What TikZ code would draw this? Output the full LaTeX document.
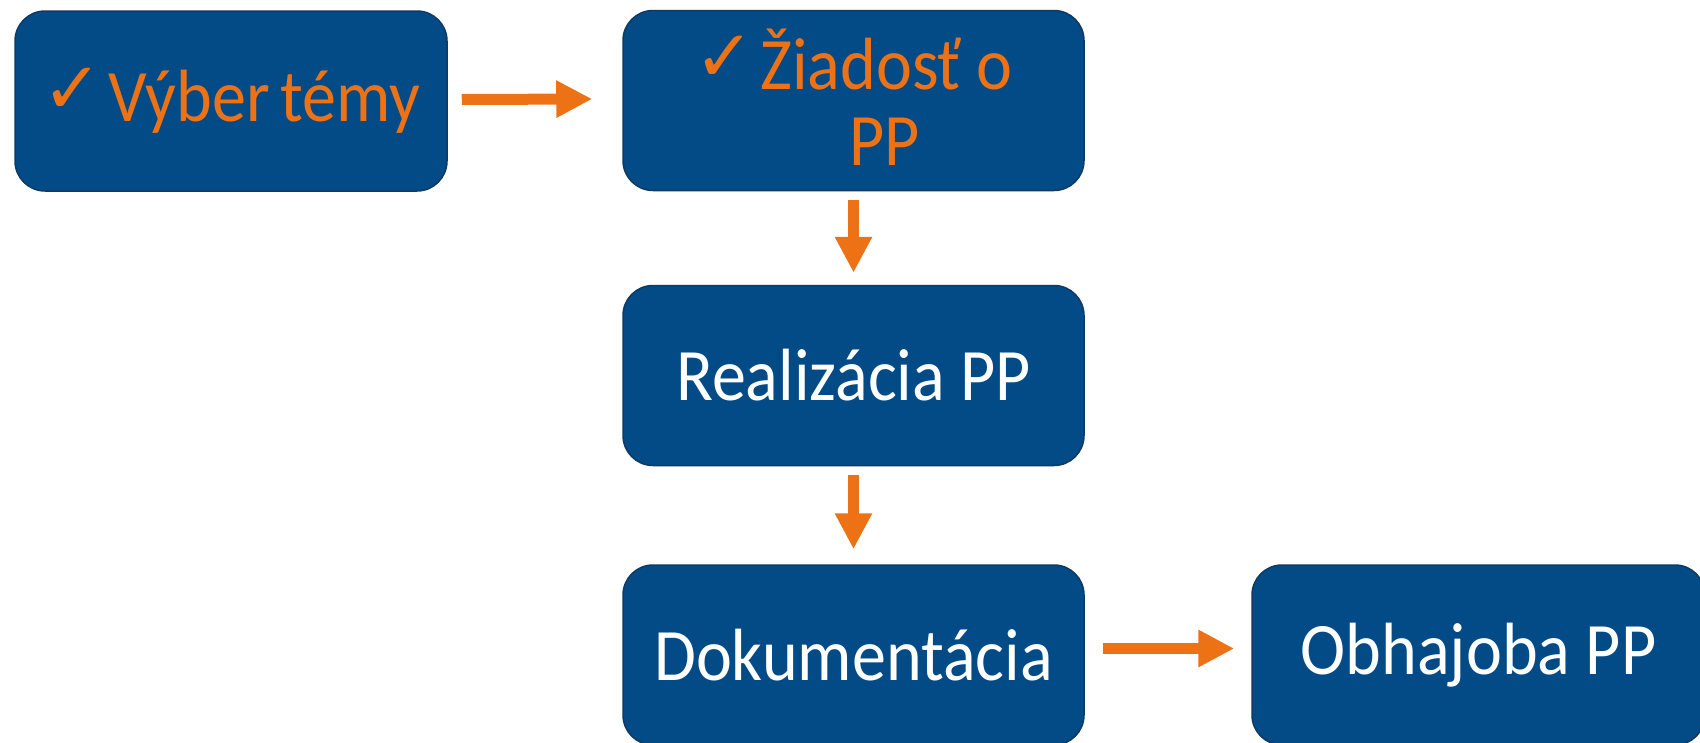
\documentclass[tikz,border=0pt]{standalone}
\usepackage{fontspec}
\setmainfont[FakeStretch=0.92]{Carlito}
\newfontfamily\symfont{DejaVu Sans}
\usetikzlibrary{arrows.meta}
\definecolor{boxblue}{RGB}{3,75,135}
\definecolor{boxedge}{RGB}{14,58,100}
\definecolor{accent}{RGB}{237,114,22}
\newcommand{\chk}{\raisebox{8pt}{\symfont\fontsize{72}{72}\selectfont ✓}\hspace{6pt}}
\begin{document}
\begin{tikzpicture}[x=1pt,y=-1pt,
  stage/.style={draw=boxedge, line width=1.5pt, fill=boxblue, rounded corners=30pt,
    inner sep=0pt, text=white, font=\fontsize{74}{76}\selectfont, align=center,
    minimum height=180pt},
  flow/.style={draw=accent, line width=11pt, -{Triangle[width=35pt,length=36pt]}}]
\useasboundingbox (0,0) rectangle (1700,742);
\node[stage, minimum width=432pt, text=accent] (b1) at (231,101) {\spaceskip=10pt\chk Výber témy};
\node[stage, minimum width=461pt, text=accent] (b2) at (853.5,100.5) {\raisebox{6pt}{\chk Žiadosť o}\\\raisebox{6pt}{\hspace*{62pt}PP}};
\node[stage, minimum width=461pt] (b3) at (853.5,375.5) {Realizácia PP};
\node[stage, minimum width=461pt] (b4) at (853.5,655) {Dokumentácia};
\node[stage, minimum width=453pt] (b5) at (1478.5,655) {Obhajoba PP};
\draw[flow] ([xshift=14pt,yshift=1.5pt]b1.east) -- ([xshift=-30pt,yshift=1.5pt]b2.west);
\draw[flow] ([yshift=-9pt]b2.south) -- ([yshift=12pt]b3.north);
\draw[flow] ([yshift=-9pt]b3.south) -- ([yshift=15pt]b4.north);
\draw[flow] ([xshift=18pt,yshift=6.5pt]b4.east) -- ([xshift=-17pt,yshift=6.5pt]b5.west);
\end{tikzpicture}
\end{document}
